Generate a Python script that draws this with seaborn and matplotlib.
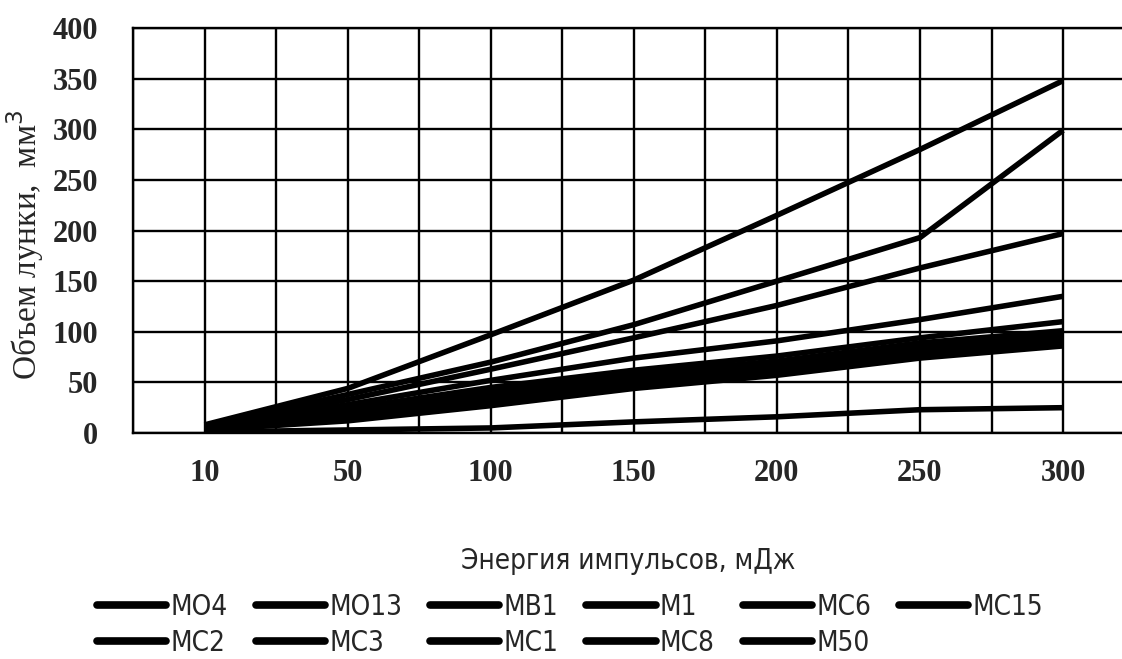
import numpy as np
import pandas as pd
import matplotlib
matplotlib.use("Agg")
import matplotlib.pyplot as plt
from matplotlib.font_manager import FontProperties
import seaborn as sns

energy = ["10", "50", "100", "150", "200", "250", "300"]
series_names = ["MO4", "MO13", "MB1", "M1", "MC6", "MC15", "MC2", "MC3", "MC1", "MC8", "M50"]
mo4 = [8, 44, 97, 151, 215, 280, 348]
mo13 = [7, 38, 70, 107, 150, 193, 299]
mb1 = [7, 33, 63, 94, 126, 163, 197]
m1 = [6, 28, 52, 74, 91, 112, 135]
mc6 = [5, 24, 45, 62, 76, 94, 110]
mc15 = [5, 21, 41, 58, 71, 89, 101]
mc2 = [4, 19, 37, 54, 67, 85, 97]
mc3 = [4, 17, 33, 51, 63, 81, 93]
mc1 = [3, 15, 30, 47, 60, 77, 89]
mc8 = [3, 12, 27, 44, 57, 74, 86]
m50 = [1, 3, 5, 11, 16, 23, 25]
y_ticks = [0, 50, 100, 150, 200, 250, 300, 350, 400]

values = [mo4, mo13, mb1, m1, mc6, mc15, mc2, mc3, mc1, mc8, m50]
rows = []
for name, vals in zip(series_names, values):
    for i, v in enumerate(vals):
        rows.append({"pos": i, "energy": energy[i], "series": name, "volume": v})
df = pd.DataFrame(rows)

sns.set_style("white")
serif = ["Liberation Serif", "DejaVu Serif"]
narrow_big = FontProperties(family="DejaVu Sans", stretch="condensed", size=20)
narrow_leg = FontProperties(family="DejaVu Sans", stretch="condensed", size=20)

fig = plt.figure(figsize=(11.22, 6.59), dpi=100)
# plot area runs past the right edge of the picture, like the reference crop
ax = fig.add_axes([133 / 1122, (659 - 433) / 659, 1001.6 / 1122, 405 / 659])

sns.lineplot(data=df, x="pos", y="volume", hue="series", hue_order=series_names,
             palette=["black"] * len(series_names), linewidth=4, ax=ax,
             legend=False, solid_capstyle="butt")

ax.set_xlim(-0.5, 6.5)
ax.set_ylim(0, 400)
ax.set_xticks(range(len(energy)))
ax.set_xticklabels(energy)
ax.set_xticks(np.arange(-0.5, 7, 1.0), minor=True)
ax.set_yticks(y_ticks)
ax.grid(True, which="both", axis="x", color="black", linewidth=1.7)
ax.grid(True, which="major", axis="y", color="black", linewidth=1.7)
ax.set_axisbelow(True)
for s in ax.spines.values():
    s.set_color("black")
    s.set_linewidth(1.7)
ax.tick_params(axis="both", which="both", length=0)
ax.tick_params(axis="x", pad=19)
ax.tick_params(axis="y", pad=25)
for lab in ax.get_xticklabels() + ax.get_yticklabels():
    lab.set_fontfamily(serif)
    lab.set_fontweight("bold")
    lab.set_fontsize(22)

ax.set_ylabel("Объем лунки,  мм$^3$", fontsize=24, family=serif)
ax.yaxis.set_label_coords(-0.087, 0.465)
ax.set_xlabel("Энергия импульсов, мДж", fontproperties=narrow_big)
ax.xaxis.set_label_coords(0.494, -0.281)

# legend reads row by row in the reference; matplotlib fills by column
leg_order = [0, 6, 1, 7, 2, 8, 3, 9, 4, 10, 5]
handles = [plt.Line2D([], [], color="black", linewidth=5.5) for _ in leg_order]
labels = [series_names[i] for i in leg_order]
fig.legend(handles, labels, loc="center left",
           bbox_to_anchor=(97 / 1122, 34 / 659), ncol=6, frameon=False,
           prop=narrow_leg, handlelength=2.5,
           handletextpad=0.15, columnspacing=1.0, labelspacing=0.3,
           borderpad=0, borderaxespad=0)

fig.savefig("out.png", dpi=100)
